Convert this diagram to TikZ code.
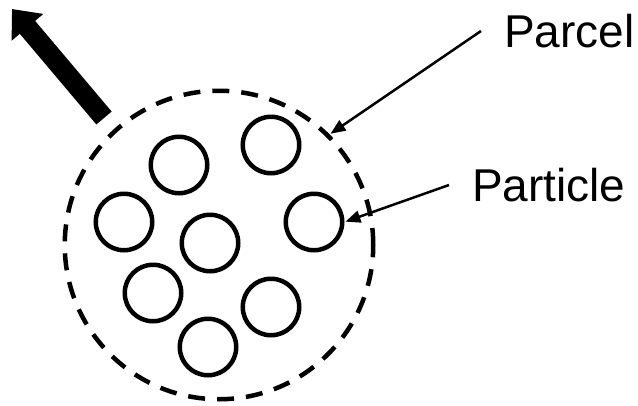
\documentclass[tikz,border=0pt]{standalone}
\usepackage{fontspec}
\setmainfont{Liberation Sans}
\usetikzlibrary{arrows.meta,positioning}

\begin{document}
\begin{tikzpicture}[
    x=1pt, y=-1pt,
    >={Triangle[length=15pt,width=12pt]},
    parcel/.style={circle, draw, line width=4.5pt, dash pattern=on 17pt off 12pt, minimum size=308.5pt, inner sep=0pt},
    particle/.style={circle, draw, line width=4.5pt, minimum size=56.5pt, inner sep=0pt},
    label/.style={font=\fontsize{46}{55}\selectfont, inner xsep=23pt, inner ysep=0pt, anchor=west},
    pointer/.style={->, line width=2.5pt, shorten >=1pt},
    motion/.style={-{Triangle[length=24pt,width=40pt]}, line width=20pt}
]
    \useasboundingbox (0,0) rectangle (638,405);

    \node (pcl) [parcel] at (219,245) {};
    \node (p1) [particle] at (179,165) {};
    \node (p2) [particle] at (271,145) {};
    \node (p3) [particle] at (124,222) {};
    \node (p4) [particle] at (210,243) {};
    \node (p5) [particle] at (314,222) {};
    \node (p6) [particle] at (153,293) {};
    \node (p7) [particle] at (271,307) {};
    \node (p8) [particle] at (208,347) {};

    \node (lblparcel) [label] at (481,31) {Parcel};
    \node (lblparticle) [label] at (449,185) {Particle};

    \coordinate (tail) at (104,118);
    \coordinate (head) at (12,9);

    \draw[motion] (tail) -- (head);
    \draw[pointer] (lblparcel.west) -- (pcl.45);
    \draw[pointer] (lblparticle.west) -- (p5.east);

\end{tikzpicture}
\end{document}
